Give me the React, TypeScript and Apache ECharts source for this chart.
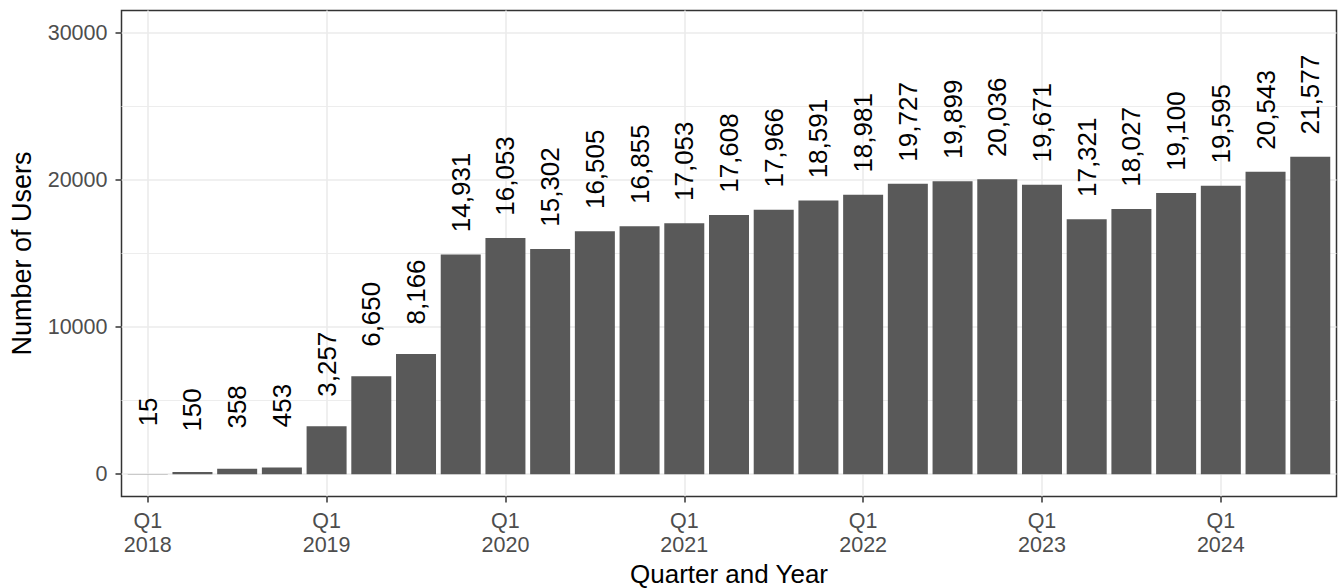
import React, { useEffect, useRef } from "react";
import * as echarts from "echarts";

const quarters = [
  "2018 Q1", "2018 Q2", "2018 Q3", "2018 Q4",
  "2019 Q1", "2019 Q2", "2019 Q3", "2019 Q4",
  "2020 Q1", "2020 Q2", "2020 Q3", "2020 Q4",
  "2021 Q1", "2021 Q2", "2021 Q3", "2021 Q4",
  "2022 Q1", "2022 Q2", "2022 Q3", "2022 Q4",
  "2023 Q1", "2023 Q2", "2023 Q3", "2023 Q4",
  "2024 Q1", "2024 Q2", "2024 Q3",
];

const users = [
  15, 150, 358, 453,
  3257, 6650, 8166, 14931,
  16053, 15302, 16505, 16855,
  17053, 17608, 17966, 18591,
  18981, 19727, 19899, 20036,
  19671, 17321, 18027, 19100,
  19595, 20543, 21577,
];

const yMajorTicks = [0, 10000, 20000, 30000];
const yMinorTicks = [5000, 15000, 25000];

const xTickIndices = quarters
  .map((q, i) => (q.endsWith("Q1") ? i : -1))
  .filter((i) => i >= 0);

const FONT = "'Liberation Sans', Arial, sans-serif";

export default function App() {
  const ref = useRef<HTMLDivElement>(null);

  useEffect(() => {
    if (!ref.current) return;
    const chart = echarts.init(ref.current, undefined, { renderer: "svg" });

    const majorGrid = { color: "#EBEBEB", width: 1.6, type: "solid" };
    const minorGrid = { color: "#EBEBEB", width: 0.9, type: "solid" };

    const option: any = {
      animation: false,
      backgroundColor: "#FFFFFF",
      textStyle: { fontFamily: FONT },
      grid: {
        left: 121.5,
        top: 10.5,
        right: 6.5,
        bottom: 91.5,
        containLabel: false,
        outerBoundsMode: "none",
        show: true,
        borderColor: "#333333",
        borderWidth: 1.5,
        backgroundColor: "transparent",
      },
      xAxis: {
        type: "value",
        min: -0.587,
        max: 26.587,
        axisLine: { show: false, onZero: false },
        splitLine: { show: false },
        axisTick: {
          show: true,
          length: 6,
          customValues: xTickIndices,
          lineStyle: { color: "#333333", width: 1.5 },
        },
        axisLabel: {
          customValues: xTickIndices,
          margin: 12,
          fontSize: 21.5,
          lineHeight: 24,
          color: "#4D4D4D",
          fontFamily: FONT,
          formatter: (v: number) => {
            const q = quarters[Math.round(v)] || "";
            const [yr, qt] = q.split(" ");
            return qt + "\n" + yr;
          },
        },
        name: "Quarter and Year",
        nameLocation: "middle",
        nameGap: 60,
        nameTextStyle: { fontSize: 26, color: "#000000", fontFamily: FONT },
      },
      yAxis: {
        type: "value",
        min: -1520,
        max: 31510,
        axisLine: { show: false, onZero: false },
        splitLine: { show: false },
        axisTick: {
          show: true,
          length: 6,
          customValues: yMajorTicks,
          lineStyle: { color: "#333333", width: 1.5 },
        },
        axisLabel: {
          customValues: yMajorTicks,
          margin: 14,
          fontSize: 21.5,
          color: "#4D4D4D",
          fontFamily: FONT,
          formatter: (v: number) => String(v),
        },
        name: "Number of Users",
        nameLocation: "middle",
        nameRotate: 90,
        nameGap: 86,
        nameTextStyle: { fontSize: 27, color: "#000000", fontFamily: FONT },
      },
      series: [
        {
          type: "line",
          data: [],
          silent: true,
          z: 0,
          markLine: {
            silent: true,
            z: 0,
            symbol: ["none", "none"],
            label: { show: false },
            emphasis: { disabled: true },
            data: [
              ...yMinorTicks.map((v) => ({ yAxis: v, lineStyle: minorGrid })),
              ...yMajorTicks.map((v) => ({ yAxis: v, lineStyle: majorGrid })),
              ...xTickIndices.map((v) => ({ xAxis: v, lineStyle: majorGrid })),
            ],
          },
        },
        {
          type: "bar",
          z: 2,
          barWidth: 40,
          itemStyle: { color: "#595959" },
          data: users.map((v, i) => [i, v]),
        },
        {
          type: "custom",
          z: 3,
          silent: true,
          clip: false,
          data: users.map((v, i) => [i, v]),
          renderItem: (params: any, api: any) => {
            const pt = api.coord([api.value(0), api.value(1)]);
            return {
              type: "text",
              x: pt[0],
              y: pt[1] - 62,
              rotation: Math.PI / 2,
              style: {
                text: Number(api.value(1)).toLocaleString("en-US"),
                align: "center",
                verticalAlign: "middle",
                fontSize: 26,
                fontFamily: FONT,
                fill: "#000000",
              },
            };
          },
        },
      ],
    };

    chart.setOption(option);
    return () => chart.dispose();
  }, []);

  return (
    <div
      ref={ref}
      style={{ position: "fixed", left: 0, top: 0, width: 1343, height: 588 }}
    />
  );
}
